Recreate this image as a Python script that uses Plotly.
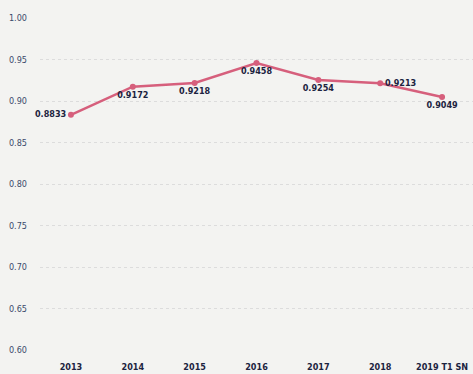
import plotly.graph_objects as go

categories = ["2013", "2014", "2015", "2016", "2017", "2018", "2019 T1 SN"]
values = [0.8833, 0.9172, 0.9218, 0.9458, 0.9254, 0.9213, 0.9049]
value_labels = ["0.8833", "0.9172", "0.9218", "0.9458", "0.9254", "0.9213", "0.9049"]
label_positions = ["middle left", "bottom center", "bottom center", "bottom center",
                   "bottom center", "middle right", "bottom center"]
y_ticks = [0.60, 0.65, 0.70, 0.75, 0.80, 0.85, 0.90, 0.95, 1.00]

fig = go.Figure()
fig.add_trace(go.Scatter(
    x=categories, y=values,
    mode="lines+markers+text",
    line=dict(color="#d65f7c", width=2.5),
    marker=dict(color="#d65f7c", size=6),
    text=value_labels,
    textposition=label_positions,
    textfont=dict(family="DejaVu Sans Condensed", size=9, color="#1c2340", weight="bold"),
    cliponaxis=False,
    showlegend=False,
))

fig.update_layout(
    width=473, height=374,
    margin=dict(l=40, r=0, t=18, b=24),
    paper_bgcolor="#f3f3f1",
    plot_bgcolor="#f3f3f1",
    xaxis=dict(
        type="category", range=[-0.5, 6.5],
        showgrid=False, zeroline=False, showline=False,
        tickfont=dict(family="DejaVu Sans Condensed", size=9, color="#1c2340", weight="bold"),
        ticks="", ticklen=0, ticklabelstandoff=10,
    ),
    yaxis=dict(
        range=[0.60, 1.00], tickvals=y_ticks,
        ticktext=[f"{v:.2f}" for v in y_ticks],
        showgrid=True, gridcolor="#dcdcdc", griddash="dot", gridwidth=1,
        zeroline=False, showline=False,
        tickfont=dict(family="DejaVu Sans Condensed", size=9, color="#3a4a6a"),
        ticks="", ticklabelstandoff=12,
    ),
)

fig.write_html("out.html")
